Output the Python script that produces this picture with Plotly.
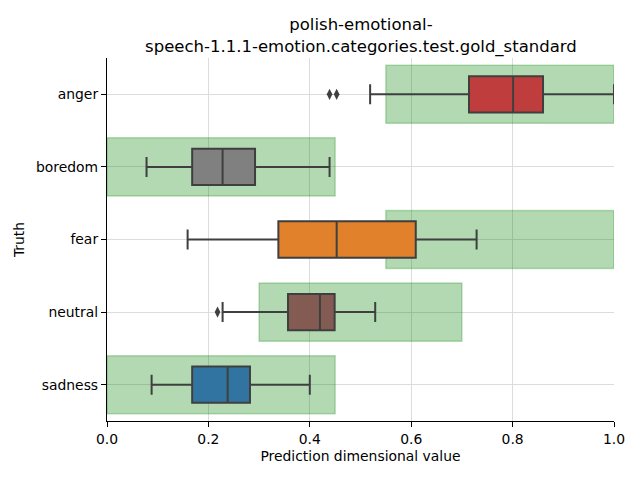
import plotly.graph_objects as go

categories = ["anger", "boredom", "fear", "neutral", "sadness"]
q1 = [0.714, 0.168, 0.338, 0.357, 0.168]
median = [0.801, 0.228, 0.453, 0.420, 0.238]
q3 = [0.860, 0.292, 0.609, 0.449, 0.282]
lower_whisker = [0.519, 0.078, 0.159, 0.228, 0.088]
upper_whisker = [1.0, 0.439, 0.729, 0.529, 0.400]
outlier_cats = ["anger", "anger", "neutral"]
outlier_vals = [0.439, 0.453, 0.218]
range_low = [0.55, 0.0, 0.55, 0.3, 0.0]
range_high = [1.0, 0.45, 1.0, 0.7, 0.45]
colors = ["#C03D3E", "#808080", "#E1812C", "#845B53", "#3274A1"]

EDGE = "#3f3f3f"
fig = go.Figure()

fig.add_trace(go.Bar(
    y=categories, x=[h - l for l, h in zip(range_low, range_high)], base=range_low,
    orientation="h", width=0.8,
    marker=dict(color="rgba(0,128,0,0.3)", line=dict(color="rgba(0,128,0,0.25)", width=1.5)),
    showlegend=False, hoverinfo="skip",
))

for i, c in enumerate(categories):
    fig.add_trace(go.Box(
        y=[c], q1=[q1[i]], median=[median[i]], q3=[q3[i]],
        lowerfence=[lower_whisker[i]], upperfence=[upper_whisker[i]],
        orientation="h", width=0.5, whiskerwidth=0.55,
        fillcolor=colors[i], line=dict(color=EDGE, width=2),
        showlegend=False,
    ))

fig.add_trace(go.Scatter(
    y=outlier_cats, x=outlier_vals, mode="markers",
    marker=dict(symbol="diamond-tall", color=EDGE, size=8),
    showlegend=False,
))

font = "DejaVu Sans"
FS = 13.9
# page has an 8px body margin: figure is 632x472 placed at (8, 8)
fig.update_layout(
    width=632, height=472,
    margin=dict(l=99, r=26, t=50, b=59),
    paper_bgcolor="white", plot_bgcolor="white",
    boxmode="overlay", barmode="overlay",
    font=dict(family=font, size=FS, color="black"),
    title=dict(text="polish-emotional-<br>speech-1.1.1-emotion.categories.test.gold_standard",
               x=0.5585, xanchor="center", y=0.953, yanchor="top",
               font=dict(family=font, size=16.5, color="black")),
)
fig.update_xaxes(
    range=[0, 1], tickvals=[0, 0.2, 0.4, 0.6, 0.8, 1.0], tickformat=".1f",
    showgrid=True, gridcolor="#dcdcdc", gridwidth=1,
    showline=True, linecolor="black", linewidth=1.2,
    ticks="outside", ticklen=5, tickcolor="black",
    tickfont=dict(family=font, size=FS, color="black"),
    title=dict(text="Prediction dimensional value", standoff=5,
               font=dict(family=font, size=FS, color="black")),
    zeroline=False, automargin=False,
)
fig.update_yaxes(
    categoryorder="array", categoryarray=categories, autorange="reversed",
    range=[4.5, -0.5],
    showgrid=True, gridcolor="#dcdcdc", gridwidth=1,
    showline=True, linecolor="black", linewidth=1.2,
    ticks="outside", ticklen=5, tickcolor="black",
    tickfont=dict(family=font, size=FS, color="black"),
    title=dict(text="Truth", standoff=8,
               font=dict(family=font, size=FS, color="black")),
    zeroline=False, automargin=False,
)
fig.write_html("out.html")
